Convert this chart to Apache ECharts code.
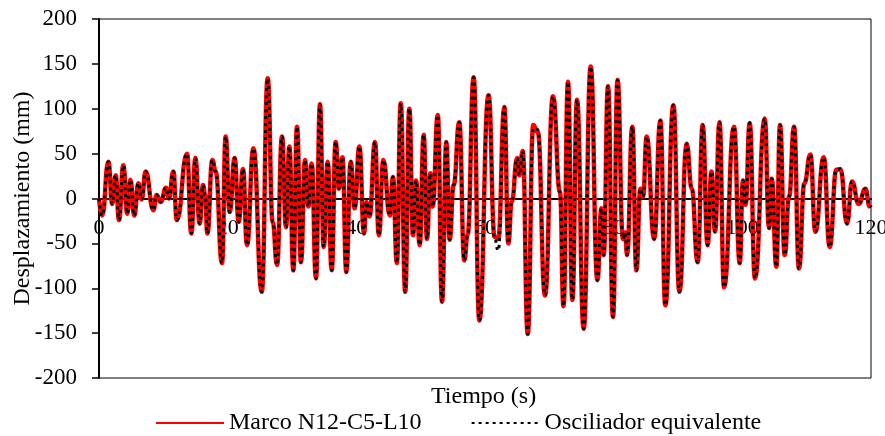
<!DOCTYPE html>
<html>
<head>
<meta charset="utf-8">
<script src="https://cdn.jsdelivr.net/npm/echarts@6/dist/echarts.min.js"></script>
<style>
html, body { margin: 0; padding: 0; background: #fff; }
#chart { width: 885px; height: 436px; }
</style>
</head>
<body>
<div id="chart"></div>
<script>
// Time (s) of each turning point of the response
const tiempo = [
  0, 0.5, 1.45, 2.07, 2.59, 3.11, 3.78, 4.4, 4.87, 5.49, 6.11, 6.63, 7.25, 8.45, 8.96, 9.58,
  10.42, 10.88, 11.55, 12.1, 13.68, 14.35, 14.98, 15.65, 16.17, 16.5, 16.84, 17.62, 18.14, 19.12, 19.69,
  20.31, 21.09, 21.71, 22.38, 23.01, 24.0, 25.3, 26.22, 27.0, 27.67, 28.45, 29.07, 29.59, 30.21, 30.78,
  31.4, 32.02, 32.54, 33.06, 33.73, 34.35, 34.93, 35.55, 36.17, 36.79, 37.3, 37.83, 38.45, 39.12, 39.74,
  40.47, 41.2, 41.55, 42.05, 42.9, 43.5, 44.2, 45.2, 45.7, 46.3, 46.9, 47.6, 48.24, 48.81, 49.28, 49.85,
  50.47, 50.98, 51.5, 51.87, 52.66, 53.32, 53.99, 54.5, 55.13, 56.0, 56.79, 57.3, 58.24, 59.12, 60.55,
  61.5, 62.05, 63.01, 63.63, 64.15, 65.0, 65.34, 65.86, 66.64, 67.5, 68.2, 69.33, 70.57, 71.66, 72.2,
  72.9, 73.58, 74.3, 75.34, 76.43, 77.47, 78.1, 78.45, 79.12, 79.9, 80.6, 81.45, 81.8, 82.08, 82.9,
  83.53, 84.15, 84.57, 85.13, 86.3, 87.26, 88.03, 89.28, 90.22, 91.35, 92.13, 93.06, 93.84, 94.6, 95.2,
  95.76, 96.45, 97.16, 98.7, 99.6, 100.1, 100.5, 101.14, 101.97, 103.48, 104.15, 104.57, 105.29, 105.86,
  106.59, 107.26, 108.04, 108.81, 109.64, 110.58, 111.35, 112.65, 113.58, 114.61, 115.24, 116.28, 117.05,
  118.09, 119.13, 119.8, 120
];

// Frame displacement (mm)
const marco = [
  0, -19, 41, -6, 26, -24, 37, -17, 21, -19, 17, -1, 30, -13, 4, -4,
  12, 0, 30, -24, 50, -39, 45, -28, 15, 4, -39, 43, 30, -72, 69,
  -15, 45, -26, 33, -52, 56, -104, 134, -26, -74, 69, -32, 58, -80, 80,
  -71, 43, -9, 39, -89, 105, -54, 41, -80, 63, 11, 46, -82, 41, -11,
  58, -39, -4, -20, 63, -41, 43, -19, 24, -72, 106, -104, 100, -41, 20, -52,
  71, -45, 28, -9, 93, -115, 63, -46, 15, 85, -69, -40, 135, -136, 115,
  -43, -45, 102, -50, -4, 45, 26, 53, -151, 82, 74, -108, 114, 7, -120,
  130, -113, 110, -145, 147, -91, -11, -63, 125, -132, 132, -45, -38, -63, 80,
  -80, 11, 2, 69, -45, 87, -119, 104, -104, 61, 11, -71, 82, -52, 30,
  -37, 85, -99, 80, -72, 20, -7, 84, -89, 89, -33, 22, -76, 82,
  -63, 2, 80, -78, 17, 49, -37, 46, -54, 32, 33, -28, 19,
  -6, 11, -9, -10
];

// Equivalent oscillator displacement (mm)
const oscilador = [
  0, -19, 41, -6, 26, -24, 37, -17, 21, -19, 17, -1, 30, -13, 4, -4,
  12, 0, 30, -24, 50, -39, 45, -28, 15, 4, -39, 43, 30, -72, 69,
  -15, 45, -26, 33, -52, 56, -104, 134, -26, -74, 69, -32, 58, -80, 80,
  -71, 43, -9, 39, -89, 105, -54, 41, -80, 63, 11, 46, -82, 41, -11,
  58, -39, -4, -20, 63, -41, 43, -19, 24, -72, 106, -104, 100, -41, 20, -52,
  71, -45, 28, -9, 93, -115, 63, -46, 15, 85, -69, -40, 135, -136, 115,
  -45, -58, 102, -50, -4, 45, 26, 53, -151, 78, 77, -108, 114, 7, -120,
  130, -113, 110, -145, 147, -91, -11, -63, 125, -132, 132, -45, -38, -63, 80,
  -80, 11, 2, 69, -45, 87, -119, 104, -104, 61, 11, -71, 82, -52, 30,
  -37, 85, -99, 80, -72, 20, -7, 84, -89, 89, -33, 22, -76, 82,
  -63, 2, 80, -78, 17, 49, -37, 46, -54, 32, 33, -28, 19,
  -6, 11, -9, -10
];

const xTicks = [0, 20, 40, 60, 80, 100, 120];
const yTicks = [-200, -150, -100, -50, 0, 50, 100, 150, 200];

const serieNames = ['Marco N12-C5-L10', 'Osciliador equivalente'];
const ejeX = 'Tiempo (s)';
const ejeY = 'Desplazamiento (mm)';

const FONT = 'Liberation Serif, Times New Roman, serif';
const pairs = (ys) => tiempo.map((t, i) => [t, ys[i]]);

const chart = echarts.init(document.getElementById('chart'), null, { renderer: 'canvas' });
chart.setOption({
  animation: false,
  backgroundColor: '#fff',
  textStyle: { fontFamily: FONT, color: '#000' },
  grid: {
    left: 99, right: 14, top: 19, bottom: 58,
    outerBoundsMode: 'none', containLabel: false,
    show: true, borderColor: '#000', borderWidth: 1, backgroundColor: 'transparent'
  },
  xAxis: {
    type: 'value',
    min: xTicks[0], max: xTicks[xTicks.length - 1], interval: xTicks[1] - xTicks[0],
    axisLine: { onZero: true, lineStyle: { color: '#000', width: 2 } },
    axisTick: { show: false },
    splitLine: { show: false },
    // tick labels sit just under the zero line
    axisLabel: { fontFamily: FONT, fontSize: 22, color: '#000', margin: -161 }
  },
  yAxis: {
    type: 'value',
    min: yTicks[0], max: yTicks[yTicks.length - 1], interval: yTicks[1] - yTicks[0],
    name: ejeY, nameLocation: 'middle', nameGap: 64, nameRotate: 90, nameMoveOverlap: false,
    nameTextStyle: { fontFamily: FONT, fontSize: 24, color: '#000' },
    axisLine: { show: true, lineStyle: { color: '#000', width: 2 } },
    axisTick: { show: true, inside: false, length: 7, lineStyle: { color: '#000', width: 1.5 } },
    splitLine: { show: false },
    axisLabel: { fontFamily: FONT, fontSize: 23, color: '#000', margin: 22 }
  },
  legend: {
    left: 150, top: 406,
    itemWidth: 68, itemHeight: 14, itemGap: 49,
    itemStyle: { opacity: 0 },
    textStyle: { fontFamily: FONT, fontSize: 24, color: '#000' },
    data: serieNames
  },
  graphic: [{
    type: 'text', left: 485 - 54, top: 385,
    style: { text: ejeX, font: '24px ' + FONT, fill: '#000' }
  }],
  series: [
    {
      name: serieNames[0], type: 'line', data: pairs(marco),
      symbol: 'none', smooth: 0.5, smoothMonotone: 'x',
      lineStyle: { color: '#ff0000', width: 4.5 },
      itemStyle: { color: '#ff0000' }, z: 2
    },
    {
      name: serieNames[1], type: 'line', data: pairs(oscilador),
      symbol: 'none', smooth: 0.5, smoothMonotone: 'x',
      lineStyle: { color: '#000', width: 3, type: [3, 4] },
      itemStyle: { color: '#000' }, z: 3
    }
  ]
});
</script>
</body>
</html>
